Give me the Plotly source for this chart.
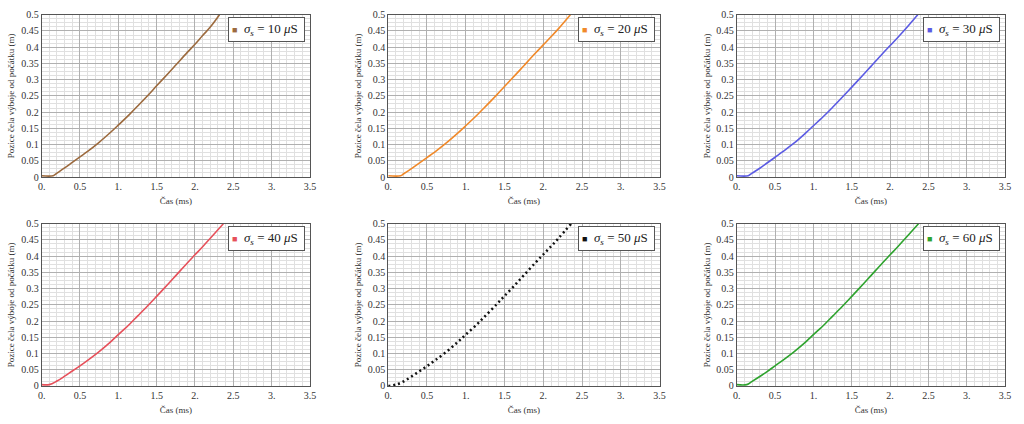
import plotly.graph_objects as go

# ---- data ----
labels = ["10", "20", "30", "40", "50", "60"]
colors = ["#9c6a3e", "#f0892a", "#5b5be3", "#e6505a", "#111111", "#2ea32e"]

t1 = [0.0, 0.15, 0.2, 0.3, 0.4, 0.5, 0.6, 0.75, 0.9, 1.0, 1.15, 1.25, 1.4, 1.5, 1.65, 1.75, 1.9, 2.0, 2.1, 2.2, 2.32]
y1 = [0.004, 0.004, 0.012, 0.028, 0.045, 0.062, 0.079, 0.107, 0.138, 0.160, 0.194, 0.218, 0.255, 0.281, 0.319, 0.345, 0.384, 0.409, 0.436, 0.462, 0.500]
t2 = [0.0, 0.16, 0.2, 0.3, 0.4, 0.5, 0.6, 0.75, 0.9, 1.0, 1.15, 1.25, 1.4, 1.5, 1.65, 1.75, 1.9, 2.0, 2.1, 2.2, 2.35]
y2 = [0.004, 0.004, 0.010, 0.026, 0.043, 0.060, 0.077, 0.105, 0.136, 0.158, 0.192, 0.216, 0.253, 0.279, 0.317, 0.343, 0.382, 0.407, 0.432, 0.458, 0.500]
t3 = [0.0, 0.15, 0.2, 0.3, 0.4, 0.5, 0.6, 0.75, 0.9, 1.0, 1.15, 1.25, 1.4, 1.5, 1.65, 1.75, 1.9, 2.0, 2.1, 2.2, 2.36]
y3 = [0.004, 0.004, 0.012, 0.027, 0.044, 0.061, 0.078, 0.105, 0.136, 0.158, 0.191, 0.215, 0.252, 0.277, 0.315, 0.341, 0.380, 0.405, 0.430, 0.456, 0.500]
t4 = [0.0, 0.1, 0.2, 0.3, 0.4, 0.5, 0.6, 0.75, 0.9, 1.0, 1.15, 1.25, 1.4, 1.5, 1.65, 1.75, 1.9, 2.0, 2.1, 2.2, 2.37]
y4 = [0.004, 0.004, 0.015, 0.030, 0.046, 0.062, 0.079, 0.106, 0.136, 0.158, 0.191, 0.215, 0.251, 0.276, 0.314, 0.340, 0.379, 0.404, 0.429, 0.455, 0.500]
t5 = [0.0, 0.1, 0.2, 0.3, 0.4, 0.5, 0.6, 0.75, 0.9, 1.0, 1.15, 1.25, 1.4, 1.5, 1.65, 1.75, 1.9, 2.0, 2.1, 2.2, 2.36]
y5 = [0.0, 0.004, 0.014, 0.029, 0.045, 0.061, 0.078, 0.105, 0.136, 0.158, 0.191, 0.215, 0.252, 0.277, 0.315, 0.341, 0.380, 0.405, 0.430, 0.456, 0.500]
t6 = [0.0, 0.13, 0.2, 0.3, 0.4, 0.5, 0.6, 0.75, 0.9, 1.0, 1.15, 1.25, 1.4, 1.5, 1.65, 1.75, 1.9, 2.0, 2.1, 2.2, 2.37]
y6 = [0.004, 0.004, 0.014, 0.029, 0.045, 0.062, 0.079, 0.106, 0.136, 0.158, 0.191, 0.215, 0.251, 0.276, 0.314, 0.340, 0.379, 0.404, 0.429, 0.455, 0.500]

xs = [t1, t2, t3, t4, t5, t6]
ys = [y1, y2, y3, y4, y5, y6]

x_tickvals = [0, 0.5, 1, 1.5, 2, 2.5, 3, 3.5]
x_ticktext = ["0.", "0.5", "1.", "1.5", "2.", "2.5", "3.", "3.5"]
y_tickvals = [0, 0.05, 0.1, 0.15, 0.2, 0.25, 0.3, 0.35, 0.4, 0.45, 0.5]
y_ticktext = ["0", "0.05", "0.1", "0.15", "0.2", "0.25", "0.3", "0.35", "0.4", "0.45", "0.5"]

xtitle = "Čas (ms)"
ytitle = "Pozice čela výboje od počátku (m)"

# ---- layout geometry ----
W, H = 1024, 424
cols_px = [(38, 309), (388, 662), (740, 1011)]
rows_px = [(9, 176), (224, 391)]

SERIF = "Liberation Serif, Times New Roman, DejaVu Serif, serif"
fig = go.Figure()
layout = dict(width=W, height=H, margin=dict(l=0, r=0, t=0, b=0),
              paper_bgcolor="white", plot_bgcolor="white", showlegend=False,
              font=dict(family=SERIF, color="#222"))
annotations = []

for i in range(6):
    r, c = divmod(i, 3)
    n = "" if i == 0 else str(i + 1)
    x0, x1 = cols_px[c]
    yt, yb = rows_px[r]
    xd = [x0 / W, x1 / W]
    yd = [1 - yb / H, 1 - yt / H]
    axcommon = dict(showline=True, linecolor="#555", linewidth=1, mirror=True,
                    ticks="", showgrid=True, gridcolor="#b0b0b0", gridwidth=1,
                    zeroline=False, tickfont=dict(size=10, family=SERIF, color="#333"))
    layout["xaxis" + n] = dict(axcommon, domain=xd, range=[0, 3.5], anchor="y" + n,
                               tickvals=x_tickvals, ticktext=x_ticktext,
                               minor=dict(dtick=0.1, tick0=0, showgrid=True, gridcolor="#e0e0e0", gridwidth=1),
                               title=dict(text=xtitle, font=dict(size=9, family=SERIF, color="#333"), standoff=6))
    layout["yaxis" + n] = dict(axcommon, domain=yd, range=[0, 0.5], anchor="x" + n,
                               tickvals=y_tickvals, ticktext=y_ticktext,
                               minor=dict(dtick=0.0125, tick0=0, showgrid=True, gridcolor="#e0e0e0", gridwidth=1),
                               title=dict(text=ytitle, font=dict(size=9, family=SERIF, color="#333"), standoff=4))
    if i == 4:
        line = dict(color=colors[i], width=2.5, dash="2px,3px")
    else:
        line = dict(color=colors[i], width=1.6)
    fig.add_trace(go.Scatter(x=xs[i], y=ys[i], mode="lines", line=line, line_shape="spline",
                             xaxis="x" + n, yaxis="y" + n, showlegend=False))
    annotations.append(dict(
        xref="paper", yref="paper", x=(x1 - 5) / W, y=1 - (yt + 2) / H,
        xanchor="right", yanchor="top", showarrow=False, align="left",
        text='<span style="color:%s;font-size:9px">■</span>  <i>σ</i><sub><i>s</i></sub> = %s <i>μ</i>S ' % (colors[i], labels[i]),
        font=dict(size=13, family=SERIF, color="#222"),
        bgcolor="white", bordercolor="#555", borderwidth=1, borderpad=3))

layout["annotations"] = annotations
fig.update_layout(**layout)
fig.write_html("out.html")
